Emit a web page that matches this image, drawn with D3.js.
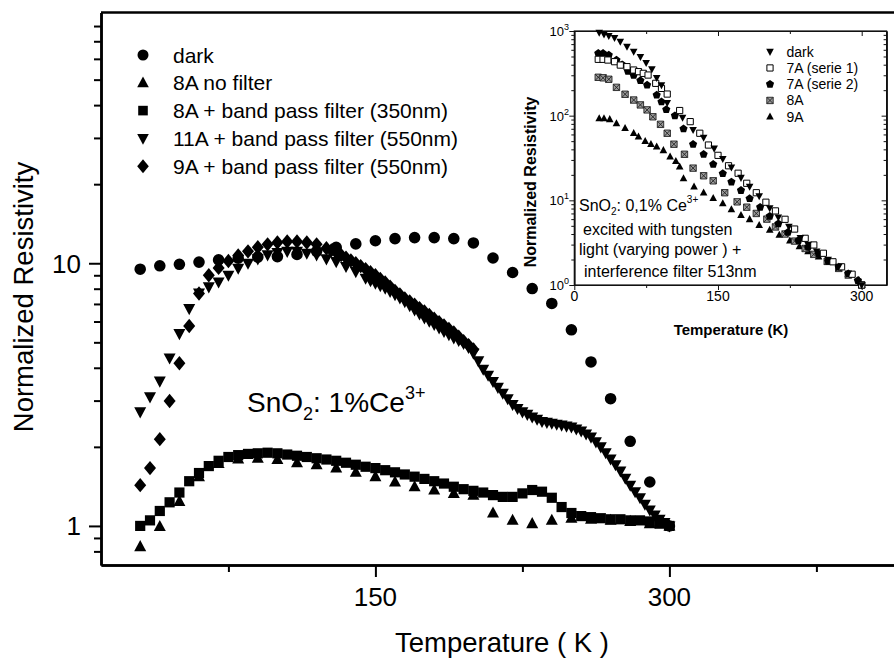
<!DOCTYPE html>
<html>
<head>
<meta charset="utf-8">
<title>SnO2:Ce normalized resistivity</title>
<script src="https://cdnjs.cloudflare.com/ajax/libs/d3/7.8.5/d3.min.js"></script>
<style>
  body { margin: 0; background: #fff; }
  svg { display: block; font-family: "Liberation Sans", Arial, Helvetica, sans-serif; }
</style>
</head>
<body>
<svg id="chart" width="894" height="658"></svg>
<script>
// ---- main panel (SnO2 : 1% Ce3+) ----
const darkT = [30,40,50,60,70,80,90,100,110,120,130,140,150,160,170,180,190,200,210,220,230,240,250,260,270,280,290,300];
const darkV = [9.49,9.78,9.91,10.1,10.3,10.45,10.55,10.6,10.8,11.1,11.5,11.85,12.18,12.41,12.52,12.52,12.41,11.95,10.47,9.22,8.01,7.03,5.58,4.21,3.05,2.10,1.47,1.0];

const noFilterT = [30,40,50,60,70,80,90,100,110,120,130,140,150,160,170,180,190,200,210,220,230,240,250,260,270,280,290,300];
const noFilterV = [0.834,0.994,1.24,1.54,1.73,1.80,1.81,1.79,1.74,1.71,1.66,1.60,1.54,1.47,1.41,1.37,1.33,1.31,1.12,1.05,1.02,1.05,1.07,1.06,1.05,1.04,1.02,1.0];

// 5 K steps, 30..300
const bp350T = d3.range(30, 301, 5);
const bp350V = [1.0,1.05,1.14,1.23,1.34,1.48,1.59,1.69,1.77,1.83,1.86,1.88,1.89,1.90,1.89,1.87,1.85,1.83,1.81,1.79,
  1.77,1.74,1.71,1.68,1.66,1.63,1.60,1.57,1.54,1.51,1.48,1.45,1.41,1.38,1.36,1.34,1.31,1.29,1.29,1.33,
  1.37,1.35,1.28,1.18,1.12,1.09,1.08,1.07,1.06,1.06,1.05,1.05,1.04,1.02,1.0];

// 5 K steps up to 145 K, then denser (2.5 K) as in the picture
const bp11T = d3.range(30, 146, 5).concat(d3.range(147.5, 300.1, 2.5));
const bp11V = [2.72,3.10,3.56,4.36,5.40,6.72,7.71,8.13,8.49,9.0,9.58,10.0,10.4,10.77,11.0,11.1,11.1,10.92,10.77,10.4,
  10.15,9.72,9.30,8.77,
  8.58,8.40,8.22,8.04,7.82,7.6,7.38,7.15,6.9,6.65,6.42,6.2,6.02,5.85,5.68,5.5,5.35,5.2,5.08,4.95,4.78,
  4.55,4.25,3.95,3.75,3.55,3.37,3.2,3.05,2.9,2.8,2.72,2.66,2.6,2.55,2.5,2.48,2.46,2.44,2.42,2.4,
  2.38,2.34,2.3,2.24,2.18,2.09,2.0,1.9,1.8,1.71,1.62,1.52,1.43,1.35,1.28,1.21,1.15,1.1,1.06,1.03,1.0];

const bp9T = d3.range(30, 121, 5).concat(d3.range(125, 200.1, 2.5));
const bp9V = [1.43,1.66,2.14,2.99,4.16,5.77,7.67,9.0,9.6,10.2,10.7,11.1,11.5,11.8,12.0,12.1,12.1,12.0,11.8,
  11.4,11.2,11.0,10.75,10.5,10.25,10.0,9.75,9.5,9.25,9.0,8.72,8.45,8.15,7.85,7.6,7.35,7.15,6.95,6.75,
  6.55,6.35,6.15,5.97,5.8,5.62,5.45,5.25,5.05,4.88,4.7];

const legendLabels = ["dark", "8A no filter", "8A + band pass filter (350nm)",
  "11A + band pass filter (550nm)", "9A + band pass filter (550nm)"];

// ---- inset (SnO2 : 0,1% Ce3+) ----
const inDarkT = [26,31,36,42,48,55,62,69,75,81,86,91,97,113,124,135,146,155,164,174,183,193,204,213,224,236,244,253,265,276,286,296,300];
const inDarkV = [955,915,875,830,750,655,570,495,420,355,280,230,142,95,68,55,41,31,24.5,18.5,14.5,11.2,8.1,6.3,4.9,3.6,3.0,2.5,2.0,1.65,1.37,1.1,1.0];

const inS1T = [25,30,35,42,48,55,62,67,72,77,85,91,97,110,121,131,140,150,161,171,180,190,200,210,220,230,241,250,260,270,279,290,300];
const inS1V = [463,463,454,434,396,379,346,331,316,302,241,210,180,115,85,62,45,34,25.6,20.9,15.9,12.3,9.5,7.5,5.97,4.58,3.56,2.97,2.37,1.88,1.64,1.34,1.0];

const inS2T = [25,30,36,44,50,56,62,69,76,86,91,96,105,114,124,135,145,155,164,174,183,194,204,213,223,234,244,255,265,276,286,296];
const inS2V = [545,545,520,455,400,335,300,260,230,175,146,118,100,70,46,35,26.7,20.7,16.5,13.1,10.5,8.3,6.5,5.3,4.2,3.36,2.8,2.34,1.91,1.63,1.36,1.13];

const in8T = [25,30,36,44,53,62,69,76,82,90,97,104,115,124,135,145,157,170,180,190,201,210,220,230,241,250,264,276,286,300];
const in8V = [284,280,269,216,179,153,134,117,97,79,62,46,35,24,19.5,17,12.3,9.6,8.3,7.0,6.0,4.85,4.0,3.3,2.7,2.3,1.9,1.57,1.31,1.0];

const in9T = [26,31,37,44,53,62,67,74,80,86,93,100,106,110,114,125,135,145,155,164,174,183,193,204,214,225,235,244,255,265,276,286,297,300];
const in9V = [93,93,90.6,81,71,62,56.5,50,46,43,39,32.7,29,25,18.2,14.5,12.3,10.6,9.2,7.8,6.7,5.97,5.1,4.47,3.9,3.33,2.85,2.5,2.16,1.88,1.57,1.35,1.15,1.0];

const inLegendLabels = ["dark", "7A (serie 1)", "7A (serie 2)", "8A", "9A"];

// ---------------------------------------------------------------
const svg = d3.select("#chart");

function markerPath(kind, s) {
  switch (kind) {
    case "circle": return `M${s},0A${s},${s} 0 1,1 ${-s},0A${s},${s} 0 1,1 ${s},0Z`;
    case "triUp": return `M0,${-1.1 * s}L${s},${0.75 * s}L${-s},${0.75 * s}Z`;
    case "triDown": return `M0,${1.1 * s}L${s},${-0.75 * s}L${-s},${-0.75 * s}Z`;
    case "square": return `M${-s},${-s}H${s}V${s}H${-s}Z`;
    case "diamond": return `M0,${-1.2 * s}L${s},0L0,${1.2 * s}L${-s},0Z`;
    case "pentagon": {
      const pts = d3.range(5).map(k => {
        const a = -Math.PI / 2 + k * 2 * Math.PI / 5;
        return [s * 1.1 * Math.cos(a), s * 1.1 * Math.sin(a)];
      });
      return "M" + pts.join("L") + "Z";
    }
    case "xsquare": return `M${-s},${-s}H${s}V${s}H${-s}ZM${-s},${-s}L${s},${s}M${s},${-s}L${-s},${s}`;
  }
}

function plotSeries(g, xs, ys, T, V, kind, s, fill, stroke, sw) {
  g.append("g").selectAll("path")
    .data(d3.zip(T, V))
    .join("path")
    .attr("transform", d => `translate(${xs(d[0])},${ys(d[1])})`)
    .attr("d", markerPath(kind, s))
    .attr("fill", fill)
    .attr("stroke", stroke || "none")
    .attr("stroke-width", sw || 0);
}

// ---------------- main panel ----------------
const x = d3.scaleLinear().domain([10, 420]).range([101, 904.6]);
const y = d3.scaleLog().domain([0.71, 90]).range([565, 12.6]);

const main = svg.append("g");

// minor + major ticks through d3 axes
const xMinor = [75, 225, 375];
const xMajor = [150, 300];
const yMinor = [0.8, 0.9, 2, 3, 4, 5, 6, 7, 8, 9, 20, 30, 40, 50, 60, 70, 80];
const yMajor = [1, 10];

function styleAxis(sel) {
  sel.select(".domain").attr("stroke", "#000").attr("stroke-width", 2.5);
  sel.selectAll(".tick line").attr("stroke", "#000").attr("stroke-width", 2);
}

main.append("g").attr("transform", `translate(0,${y.range()[0]})`)
  .call(d3.axisBottom(x).tickValues(xMinor).tickSize(7).tickSizeOuter(0).tickFormat(""))
  .call(styleAxis);
main.append("g").attr("transform", `translate(0,${y.range()[0]})`)
  .call(d3.axisBottom(x).tickValues(xMajor).tickSize(12).tickSizeOuter(0).tickFormat(""))
  .call(styleAxis);
main.append("g").attr("transform", `translate(${x.range()[0]},0)`)
  .call(d3.axisLeft(y).tickValues(yMinor).tickSize(7).tickSizeOuter(0).tickFormat(""))
  .call(styleAxis);
main.append("g").attr("transform", `translate(${x.range()[0]},0)`)
  .call(d3.axisLeft(y).tickValues(yMajor).tickSize(12).tickSizeOuter(0).tickFormat(""))
  .call(styleAxis);
// top frame
main.append("line")
  .attr("x1", x.range()[0]).attr("x2", x.range()[1])
  .attr("y1", y.range()[1]).attr("y2", y.range()[1])
  .attr("stroke", "#000").attr("stroke-width", 2.5);

// tick labels
main.selectAll(".xl").data(xMajor).join("text")
  .attr("x", d => x(d)).attr("y", 606)
  .attr("text-anchor", "middle").attr("font-size", 26).text(d => d);
main.selectAll(".yl").data(yMajor).join("text")
  .attr("x", 81).attr("y", d => y(d)).attr("dy", "0.36em")
  .attr("text-anchor", "end").attr("font-size", 26).text(d => d);

// axis titles
main.append("text").attr("x", 502).attr("y", 652)
  .attr("text-anchor", "middle").attr("font-size", 27.5).text("Temperature ( K )");
main.append("text").attr("transform", "translate(33,297) rotate(-90)")
  .attr("text-anchor", "middle").attr("font-size", 27.5).text("Normalized Resistivity");

// data
plotSeries(main, x, y, darkT, darkV, "circle", 5.8, "#000");
plotSeries(main, x, y, noFilterT, noFilterV, "triUp", 6, "#000");
plotSeries(main, x, y, bp350T, bp350V, "square", 5.1, "#000");
plotSeries(main, x, y, bp11T, bp11V, "triDown", 6, "#000");
plotSeries(main, x, y, bp9T, bp9V, "diamond", 6, "#000");

// legend
const legKinds = ["circle", "triUp", "square", "triDown", "diamond"];
const legSizes = [5.5, 5.8, 4.8, 5.8, 5.8];
const leg = main.append("g");
legendLabels.forEach((lab, i) => {
  const ly = 55 + i * 27.8;
  leg.append("path").attr("transform", `translate(143,${ly})`)
    .attr("d", markerPath(legKinds[i], legSizes[i])).attr("fill", "#000");
  leg.append("text").attr("x", 173).attr("y", ly).attr("dy", "0.36em")
    .attr("font-size", 21).text(lab);
});

// annotation
const ann = main.append("text").attr("x", 247).attr("y", 412).attr("font-size", 28);
ann.append("tspan").text("SnO");
ann.append("tspan").attr("font-size", 18).attr("dy", 8).text("2");
ann.append("tspan").attr("dy", -8).text(": 1%Ce");
ann.append("tspan").attr("font-size", 18).attr("dy", -13).text("3+");

// ---------------- inset ----------------
const ix = d3.scaleLinear().domain([0, 326]).range([574.3, 886.6]);
const iy = d3.scaleLog().domain([1, 1000]).range([285, 31]);
const ins = svg.append("g");

ins.append("rect")
  .attr("x", ix.range()[0]).attr("y", iy.range()[1])
  .attr("width", ix.range()[1] - ix.range()[0]).attr("height", iy.range()[0] - iy.range()[1])
  .attr("fill", "#fff").attr("stroke", "#111").attr("stroke-width", 1.2);

const ixMinor = [75, 225];
const ixMajor = [0, 150, 300];
const iyMajor = [1, 10, 100, 1000];
const iyMinor = [];
[1, 10, 100].forEach(dec => d3.range(2, 10).forEach(k => iyMinor.push(dec * k)));

function styleInAxis(sel) {
  sel.select(".domain").attr("stroke", "#111").attr("stroke-width", 1.2);
  sel.selectAll(".tick line").attr("stroke", "#111").attr("stroke-width", 1);
}
const b = iy.range()[0], t = iy.range()[1], l = ix.range()[0], r = ix.range()[1];
ins.append("g").attr("transform", `translate(0,${b})`)
  .call(d3.axisBottom(ix).tickValues(ixMinor).tickSize(3).tickSizeOuter(0).tickFormat("")).call(styleInAxis);
ins.append("g").attr("transform", `translate(0,${b})`)
  .call(d3.axisBottom(ix).tickValues(ixMajor).tickSize(5).tickSizeOuter(0).tickFormat("")).call(styleInAxis);
ins.append("g").attr("transform", `translate(0,${t})`)
  .call(d3.axisBottom(ix).tickValues(ixMinor).tickSize(3).tickSizeOuter(0).tickFormat("")).call(styleInAxis);
ins.append("g").attr("transform", `translate(0,${t})`)
  .call(d3.axisBottom(ix).tickValues(ixMajor.slice(1)).tickSize(5).tickSizeOuter(0).tickFormat("")).call(styleInAxis);
ins.append("g").attr("transform", `translate(${l},0)`)
  .call(d3.axisLeft(iy).tickValues(iyMinor).tickSize(3).tickSizeOuter(0).tickFormat("")).call(styleInAxis);
ins.append("g").attr("transform", `translate(${l},0)`)
  .call(d3.axisLeft(iy).tickValues(iyMajor).tickSize(5).tickSizeOuter(0).tickFormat("")).call(styleInAxis);
ins.append("g").attr("transform", `translate(${r},0)`)
  .call(d3.axisLeft(iy).tickValues(iyMinor).tickSize(3).tickSizeOuter(0).tickFormat("")).call(styleInAxis);
ins.append("g").attr("transform", `translate(${r},0)`)
  .call(d3.axisLeft(iy).tickValues(iyMajor).tickSize(5).tickSizeOuter(0).tickFormat("")).call(styleInAxis);

// inset tick labels
ins.selectAll(".ixl").data(ixMajor).join("text")
  .attr("x", d => ix(d)).attr("y", 301)
  .attr("text-anchor", "middle").attr("font-size", 14).text(d => d);
iyMajor.forEach(v => {
  const tx = ins.append("text").attr("x", 569).attr("y", iy(v) + 5)
    .attr("text-anchor", "end").attr("font-size", 13);
  tx.append("tspan").text("10");
  tx.append("tspan").attr("font-size", 9).attr("dy", -6).text(Math.round(Math.log10(v)));
});

ins.append("text").attr("x", 731).attr("y", 335)
  .attr("text-anchor", "middle").attr("font-size", 15).attr("font-weight", "bold")
  .text("Temperature (K)");
ins.append("text").attr("transform", "translate(536,182) rotate(-90)")
  .attr("text-anchor", "middle").attr("font-size", 16).attr("font-weight", "bold")
  .text("Normalized Resistivity");

// inset data
plotSeries(ins, ix, iy, in9T, in9V, "triUp", 3.8, "#000");
plotSeries(ins, ix, iy, in8T, in8V, "xsquare", 3.2, "#9a9a9a", "#222", 0.9);
plotSeries(ins, ix, iy, inS2T, inS2V, "pentagon", 3.9, "#000");
plotSeries(ins, ix, iy, inS1T, inS1V, "square", 3.1, "#fff", "#000", 1);
plotSeries(ins, ix, iy, inDarkT, inDarkV, "triDown", 3.8, "#000");

// inset legend
const inKinds = [["triDown", 3.8, "#000", null, 0], ["square", 3.1, "#fff", "#000", 1],
  ["pentagon", 3.9, "#000", null, 0], ["xsquare", 3.2, "#9a9a9a", "#222", 0.9], ["triUp", 3.8, "#000", null, 0]];
inLegendLabels.forEach((lab, i) => {
  const ly = 51.7 + i * 16.25;
  const k = inKinds[i];
  ins.append("path").attr("transform", `translate(770,${ly})`)
    .attr("d", markerPath(k[0], k[1])).attr("fill", k[2])
    .attr("stroke", k[3] || "none").attr("stroke-width", k[4]);
  ins.append("text").attr("x", 786.5).attr("y", ly).attr("dy", "0.36em")
    .attr("font-size", 14).text(lab);
});

// inset annotation
const a1 = ins.append("text").attr("x", 579).attr("y", 211).attr("font-size", 16);
a1.append("tspan").text("SnO");
a1.append("tspan").attr("font-size", 10).attr("dy", 4).text("2");
a1.append("tspan").attr("dy", -4).text(": 0,1% Ce");
a1.append("tspan").attr("font-size", 10).attr("dy", -8).text("3+");
ins.append("text").attr("x", 583).attr("y", 235).attr("font-size", 16).text("excited with tungsten");
ins.append("text").attr("x", 579).attr("y", 255).attr("font-size", 16).text("light (varying power ) +");
ins.append("text").attr("x", 584).attr("y", 277).attr("font-size", 16).text("interference filter 513nm");
</script>
</body>
</html>
